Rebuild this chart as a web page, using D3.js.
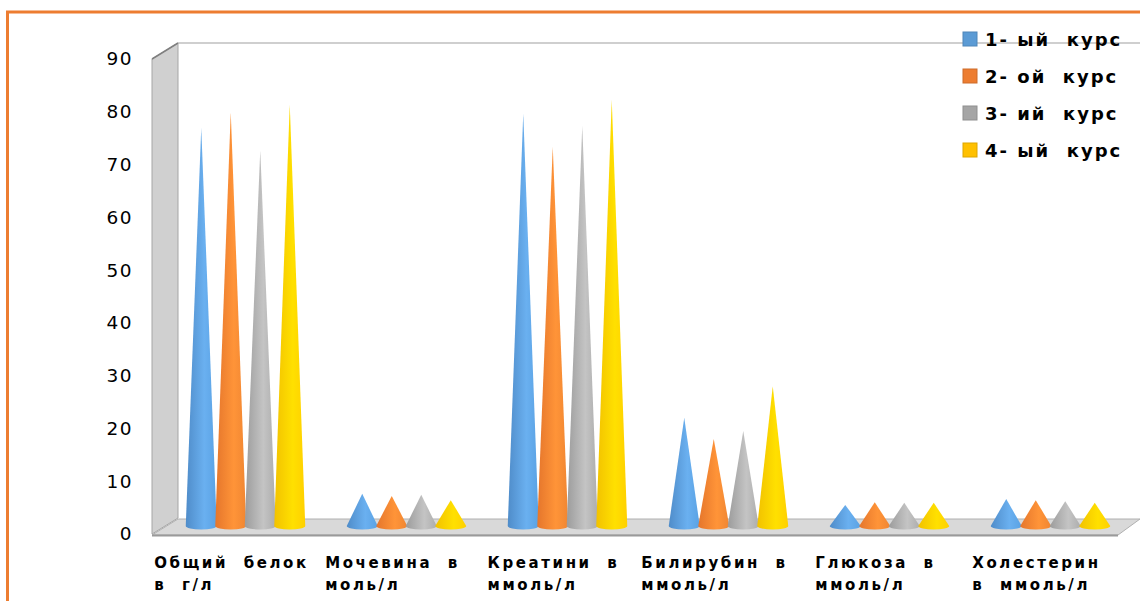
<!DOCTYPE html>
<html>
<head>
<meta charset="utf-8">
<script src="https://cdn.jsdelivr.net/npm/d3@7"></script>
<style>
  body { margin: 0; background: #fff; overflow: hidden; }
  svg { display: block; font-family: "DejaVu Sans", sans-serif; }
  .pre { white-space: pre; }
</style>
</head>
<body>
<div id="chart"></div>
<script>
// DATA
const categories = ["Общий белок", "Мочевина", "Креатинин", "Билирубин", "Глюкоза", "Холестерин"];
const categoryLines = [
  ["Общий  белок", "в  г/л"],
  ["Мочевина  в", "моль/л"],
  ["Креатини  в", "ммоль/л"],
  ["Билирубин  в", "ммоль/л"],
  ["Глюкоза  в", "ммоль/л"],
  ["Холестерин", "в  ммоль/л"]
];
const seriesNames = ["1- ый  курс", "2- ой  курс", "3- ий  курс", "4- ый  курс"];
const kurs1 = [75.4, 6.1, 78.1, 20.5, 4.0, 5.1];
const kurs2 = [78.4, 5.7, 71.8, 16.5, 4.5, 4.9];
const kurs3 = [71.2, 5.9, 75.8, 18.0, 4.4, 4.7];
const kurs4 = [79.8, 4.9, 80.7, 26.5, 4.4, 4.4];
const yTicks = [0, 10, 20, 30, 40, 50, 60, 70, 80, 90];

const seriesValues = [kurs1, kurs2, kurs3, kurs4];
const colors = ["#5b9bd5", "#ed7d31", "#a5a5a5", "#ffc000"];
const shades = [
  ["#4f8cc9", "#6ab0f0", "#5aa2e4"],
  ["#e5762c", "#ff9438", "#f08632"],
  ["#9c9c9c", "#c4c4c4", "#adadad"],
  ["#f2c200", "#ffe000", "#ffd000"]
];

const W = 1140, H = 601;
const front = { left: 152, right: 1118, bottom: 534, top: 59 };
const depth = { dx: 26, dy: -16 };

const svg = d3.select("#chart").append("svg")
  .attr("width", W).attr("height", H);

const defs = svg.append("defs");
shades.forEach((s, i) => {
  const g = defs.append("linearGradient").attr("id", "cone" + i)
    .attr("x1", "0").attr("x2", "1").attr("y1", "0").attr("y2", "0");
  g.append("stop").attr("offset", "0").attr("stop-color", s[0]);
  g.append("stop").attr("offset", "0.6").attr("stop-color", s[1]);
  g.append("stop").attr("offset", "1").attr("stop-color", s[2]);
});

// outer orange frame
svg.append("rect")
  .attr("x", 7.5).attr("y", 12)
  .attr("width", 1200).attr("height", 700)
  .attr("fill", "none").attr("stroke", "#ed7d31").attr("stroke-width", 3);

// scales
const x = d3.scaleBand().domain(categories).range([front.left, front.right]);
const inner = d3.scaleBand().domain(seriesNames).range([-59, 59]);
const y = d3.scaleLinear().domain([0, 90]).range([front.bottom, front.top]);

// 3D walls
const wallTop = y(90);
svg.append("polygon")
  .attr("points", [
    [front.left, wallTop], [front.left + depth.dx, wallTop + depth.dy],
    [front.left + depth.dx, front.bottom + depth.dy], [front.left, front.bottom]
  ].map(p => p.join(",")).join(" "))
  .attr("fill", "#d0d0d0").attr("stroke", "#a6a6a6").attr("stroke-width", 1);

svg.append("line")
  .attr("x1", front.left + depth.dx).attr("x2", W)
  .attr("y1", wallTop + depth.dy).attr("y2", wallTop + depth.dy)
  .attr("stroke", "#bfbfbf").attr("stroke-width", 1.5);

svg.append("line")
  .attr("x1", front.left).attr("x2", front.left + depth.dx)
  .attr("y1", wallTop).attr("y2", wallTop + depth.dy)
  .attr("stroke", "#7f7f7f").attr("stroke-width", 1.5);

// floor
svg.append("polygon")
  .attr("points", [
    [front.left, front.bottom + 1], [front.left + depth.dx, front.bottom + depth.dy + 1],
    [front.right + depth.dx - 4, front.bottom + depth.dy + 1], [front.right, front.bottom + 1]
  ].map(p => p.join(",")).join(" "))
  .attr("fill", "#d9d9d9").attr("stroke", "#b0b0b0").attr("stroke-width", 1);

svg.append("line")
  .attr("x1", front.left).attr("x2", front.right)
  .attr("y1", front.bottom + 1.5).attr("y2", front.bottom + 1.5)
  .attr("stroke", "#9a9a9a").attr("stroke-width", 2);

// y axis labels
const yAxis = d3.axisLeft(y).tickValues(yTicks).tickSize(0).tickPadding(0);
const gy = svg.append("g").attr("transform", "translate(133,0)").call(yAxis);
gy.select(".domain").remove();
gy.selectAll("text")
  .attr("font-family", "DejaVu Sans").attr("font-size", 18.5)
  .attr("letter-spacing", "1.5px").attr("fill", "#000");

// cones (placed at mid depth)
const midDx = depth.dx / 2, midDy = depth.dy / 2;
const rx = 15.5, ry = 3.5;
seriesNames.forEach((s, si) => {
  svg.append("g").selectAll("path")
    .data(categories.map((c, ci) => ({ c, v: seriesValues[si][ci] })))
    .enter().append("path")
    .attr("d", d => {
      const cx = x(d.c) + x.bandwidth() / 2 + midDx + inner(s) + inner.bandwidth() / 2;
      const base = y(0) + midDy;
      const tip = y(d.v) + midDy;
      return `M${cx},${tip} L${cx - rx},${base} A${rx},${ry} 0 0 0 ${cx + rx},${base} Z`;
    })
    .attr("fill", "url(#cone" + si + ")");
});

// category labels
const labels = svg.append("g")
  .attr("font-family", "DejaVu Sans").attr("font-weight", "bold")
  .attr("font-size", 15).attr("letter-spacing", "2.6px")
  .attr("fill", "#000");
categories.forEach((c, i) => {
  const cx = x(c) + x.bandwidth() / 2 - 1;
  const t1 = labels.append("text").attr("class", "pre").attr("x", cx).attr("y", 568)
    .attr("text-anchor", "middle").text(categoryLines[i][0]);
  const left = t1.node().getBBox().x;
  labels.append("text").attr("class", "pre").attr("x", left).attr("y", 590).text(categoryLines[i][1]);
});

// legend
const legend = svg.append("g").attr("transform", "translate(963,39)");
seriesNames.forEach((s, i) => {
  const row = legend.append("g").attr("transform", `translate(0,${i * 37})`);
  row.append("rect").attr("x", 0).attr("y", -7).attr("width", 14).attr("height", 14)
    .attr("fill", colors[i]).attr("stroke", d3.color(colors[i]).darker(0.4)).attr("stroke-width", 1);
  row.append("text").attr("class", "pre").attr("x", 22).attr("y", 7)
    .attr("font-family", "DejaVu Sans").attr("font-weight", "bold")
    .attr("font-size", 18).attr("letter-spacing", "2px")
    .attr("fill", "#000").text(s);
});
</script>
</body>
</html>
